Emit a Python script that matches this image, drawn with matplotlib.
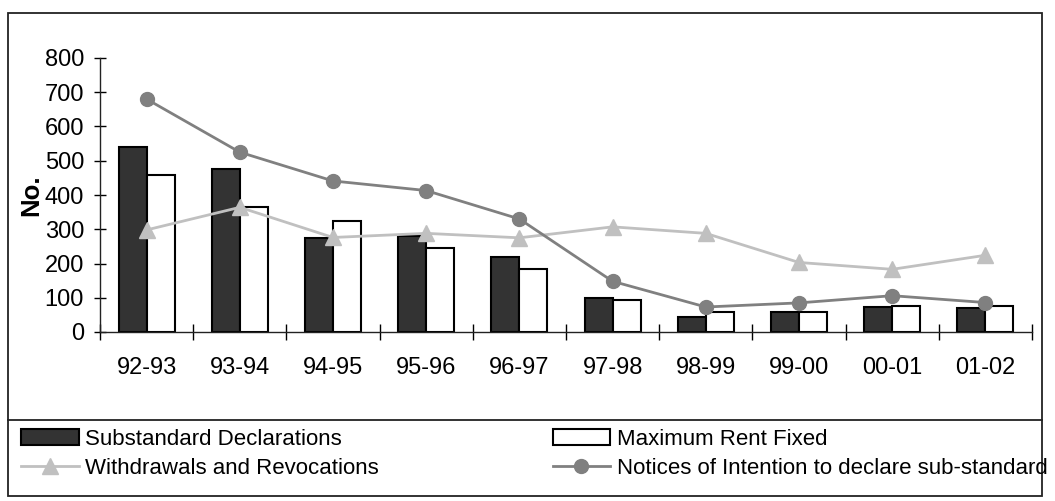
import matplotlib
matplotlib.use("Agg")
import matplotlib.pyplot as plt
from matplotlib.lines import Line2D
from matplotlib.patches import Rectangle
import numpy as np

plt.rcParams['font.family'] = ['Liberation Sans', 'DejaVu Sans']

categories = ["92-93", "93-94", "94-95", "95-96", "96-97", "97-98", "98-99", "99-00", "00-01", "01-02"]
substandard = [541, 477, 275, 280, 220, 100, 44, 57, 72, 71]
max_rent = [457, 366, 325, 246, 183, 92, 57, 57, 77, 77]
withdrawals = [298, 364, 276, 288, 275, 307, 288, 203, 183, 224]
notices = [680, 525, 441, 413, 330, 148, 73, 85, 106, 86]
yticks = [0, 100, 200, 300, 400, 500, 600, 700, 800]

W, H = 1055, 501
fig = plt.figure(figsize=(W / 100, H / 100), dpi=100)


def fx(px):
    return px / W


def fy(py):
    return 1 - py / H


# outer frame and separator
fig.patches.append(Rectangle((fx(8), fy(496)), fx(1042) - fx(8), fy(13) - fy(496),
                             transform=fig.transFigure, fill=False, edgecolor='#222222', lw=1.3))
fig.lines.append(Line2D([fx(8), fx(1042)], [fy(420), fy(420)], transform=fig.transFigure,
                        color='#222222', lw=1.3))

ax = fig.add_axes([fx(100), fy(332), fx(1032) - fx(100), fy(58) - fy(332)])
x = np.arange(len(categories))
bw = 0.3
b1 = ax.bar(x - bw / 2, substandard, bw, color='#333333', edgecolor='black', lw=1.5,
            label='Substandard Declarations', zorder=2)
b2 = ax.bar(x + bw / 2, max_rent, bw, color='white', edgecolor='black', lw=1.5,
            label='Maximum Rent Fixed', zorder=2)
l1, = ax.plot(x, withdrawals, color='#c0c0c0', lw=2, marker='^', markersize=11,
              markeredgecolor='#c0c0c0', label='Withdrawals and Revocations', zorder=3)
l2, = ax.plot(x, notices, color='#808080', lw=2, marker='o', markersize=10,
              markeredgecolor='#808080', label='Notices of Intention to declare sub-standard', zorder=4)

ax.set_xlim(-0.5, len(categories) - 0.5)
ax.set_ylim(0, 800)
for s in ['top', 'right']:
    ax.spines[s].set_visible(False)
for s in ['left', 'bottom']:
    ax.spines[s].set_color('#222222')
    ax.spines[s].set_linewidth(1.0)

ax.set_yticks(yticks)
ax.set_yticklabels([str(v) for v in yticks])
ax.tick_params(axis='y', direction='inout', length=9, width=1, labelsize=17, pad=7, colors='black')
ax.set_xticks(np.arange(len(categories) + 1) - 0.5)
ax.set_xticklabels([])
ax.set_xticks(x, minor=True)
ax.set_xticklabels(categories, minor=True)
ax.tick_params(axis='x', which='major', direction='inout', length=11, width=1)
ax.tick_params(axis='x', which='minor', length=0, labelsize=17, pad=18)
ax.set_ylabel('No.', fontsize=18.5, fontweight='bold', labelpad=1)

fig.legend([b1, l1, b2, l2],
           [b1.get_label(), l1.get_label(), b2.get_label(), l2.get_label()], ncol=2,
           loc='upper left', bbox_to_anchor=(fx(21), fy(429)), frameon=False,
           fontsize=16, handlelength=2.6, handletextpad=0.3, columnspacing=7.8,
           labelspacing=0.35, borderpad=0, borderaxespad=0)

fig.savefig('out.png', dpi=100)
